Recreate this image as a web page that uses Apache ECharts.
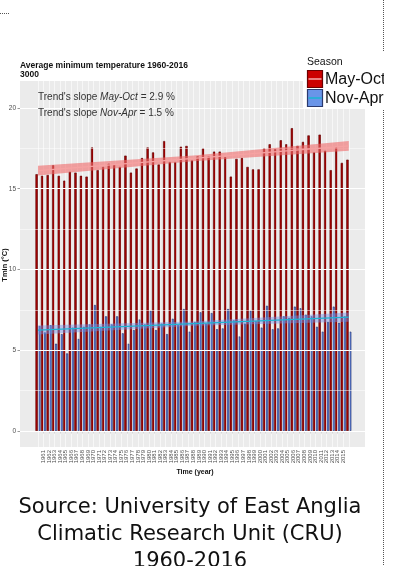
<!DOCTYPE html>
<html>
<head>
<meta charset="utf-8">
<script src="https://cdn.jsdelivr.net/npm/echarts@6/dist/echarts.min.js"></script>
<style>
  html, body { margin: 0; padding: 0; background: #fff; }
  #chart { width: 405px; height: 566px; }
</style>
</head>
<body>
<div id="chart"></div>
<script>
// years on the x axis
const years = [1960,1961,1962,1963,1964,1965,1966,1967,1968,1969,
  1970,1971,1972,1973,1974,1975,1976,1977,1978,1979,
  1980,1981,1982,1983,1984,1985,1986,1987,1988,1989,
  1990,1991,1992,1993,1994,1995,1996,1997,1998,1999,
  2000,2001,2002,2003,2004,2005,2006,2007,2008,2009,
  2010,2011,2012,2013,2014,2015,2016];

// Tmin (°C) per season
const mayOct = [15.9,15.8,15.85,16.45,15.8,15.5,16.05,16.0,15.8,15.75,
  17.55,16.15,16.35,16.55,16.5,16.35,17.05,16.0,16.25,16.9,
  17.55,17.25,16.5,17.95,16.65,16.65,17.6,17.65,16.75,17.0,
  17.5,17.0,17.3,17.3,16.95,15.75,16.85,16.9,16.35,16.2,
  16.2,17.5,17.75,17.45,18.0,17.75,18.75,17.65,17.9,18.3,
  17.25,18.35,17.35,16.15,17.55,16.6,16.8];
const novApr = [6.5,6.1,6.55,5.4,6.0,4.8,6.4,5.7,6.45,6.6,
  7.8,6.45,7.1,6.6,7.1,6.05,5.4,6.25,6.9,6.6,
  7.45,6.25,6.65,6.0,6.95,6.55,7.55,6.15,6.75,7.35,
  6.65,7.3,6.3,6.35,7.55,6.85,5.85,6.65,7.45,6.8,
  6.4,7.75,6.3,6.35,7.1,7.0,7.7,7.6,7.2,7.1,
  6.45,6.15,6.75,7.7,6.7,7.1,6.15];

// linear trends (lm smooth) with their confidence band half widths
const trendYears = [1960, 1988, 2016];
const mayOctTrend = [16.12, 16.88, 17.65];
const mayOctBand = [0.3, 0.18, 0.3];
const novAprTrend = [6.25, 6.65, 7.05];
const novAprBand = [0.28, 0.13, 0.28];

const yMajor = [0, 5, 10, 15, 20];
const yMinor = [2.5, 7.5, 12.5, 17.5];

const FONT = 'Liberation Sans';

var myChart = echarts.init(document.getElementById('chart'));

function bandSeries(trend, band, fill) {
  return {
    type: 'custom',
    silent: true,
    z: 5,
    data: [[trendYears[0], trend[0]]],
    renderItem: function (params, api) {
      var upper = trendYears.map(function (yr, i) { return api.coord([yr, trend[i] + band[i]]); });
      var lower = trendYears.map(function (yr, i) { return api.coord([yr, trend[i] - band[i]]); }).reverse();
      return { type: 'polygon', shape: { points: upper.concat(lower) }, style: { fill: fill } };
    }
  };
}

function trendSeries(trend, color) {
  return {
    type: 'line',
    silent: true,
    z: 6,
    symbol: 'none',
    data: trendYears.map(function (yr, i) { return [yr, trend[i]]; }),
    lineStyle: { color: color, width: 1.2 }
  };
}

var gridLines = [];
yMajor.forEach(function (v) { gridLines.push({ yAxis: v, lineStyle: { width: 1.1 } }); });
yMinor.forEach(function (v) { gridLines.push({ yAxis: v, lineStyle: { width: 0.5 } }); });
years.forEach(function (yr) { gridLines.push({ xAxis: yr, lineStyle: { width: 0.6 } }); });

var option = {
  animation: false,
  backgroundColor: '#fff',
  textStyle: { fontFamily: FONT },
  grid: {
    left: 20, right: 40, top: 81, bottom: 119,
    show: true, backgroundColor: '#EBEBEB', borderWidth: 0
  },
  xAxis: {
    type: 'value',
    min: 1956.76, max: 2018.92,
    axisLine: { show: false },
    splitLine: { show: false },
    axisTick: { customValues: years, length: 2.5, lineStyle: { color: '#555', width: 0.6 } },
    axisLabel: {
      customValues: years, rotate: 90, fontSize: 6, color: '#4d4d4d', margin: 3,
      formatter: function (v) { return String(v); }
    }
  },
  yAxis: {
    type: 'value',
    min: -0.99, max: 21.67,
    axisLine: { show: false },
    splitLine: { show: false },
    axisTick: { show: true, customValues: yMajor, length: 2.5, lineStyle: { color: '#555', width: 0.6 } },
    axisLabel: { customValues: yMajor, fontSize: 6.5, color: '#4d4d4d', margin: 4 }
  },
  series: [
    {
      type: 'scatter',
      silent: true,
      z: 1,
      symbolSize: 0,
      data: [[1960, 0]],
      markLine: {
        silent: true,
        symbol: ['none', 'none'],
        label: { show: false },
        lineStyle: { color: '#fff', type: 'solid' },
        data: gridLines
      }
    },
    {
      name: 'May-Oct',
      type: 'bar',
      z: 2,
      barWidth: 2.4,
      barGap: '12%',
      data: years.map(function (yr, i) { return [yr, mayOct[i]]; }),
      itemStyle: { color: '#A80000', borderColor: '#5a0000', borderWidth: 0.6 }
    },
    {
      name: 'Nov-Apr',
      type: 'bar',
      z: 2,
      barWidth: 2.4,
      barGap: '12%',
      data: years.map(function (yr, i) { return [yr, novApr[i]]; }),
      itemStyle: { color: '#5778CC', borderColor: '#27346e', borderWidth: 0.6 }
    },
    bandSeries(mayOctTrend, mayOctBand, 'rgba(240,105,105,0.6)'),
    trendSeries(mayOctTrend, '#F6A2A2'),
    bandSeries(novAprTrend, novAprBand, 'rgba(115,145,235,0.45)'),
    trendSeries(novAprTrend, '#1FB3D3')
  ],
  graphic: [
    // dotted frame bits of the page
    { type: 'line', z: 1, shape: { x1: 383.5, y1: 0, x2: 383.5, y2: 566 },
      style: { stroke: '#555', lineWidth: 1, lineDash: [1, 1] } },
    { type: 'line', z: 1, shape: { x1: 0, y1: 13.5, x2: 9, y2: 13.5 },
      style: { stroke: '#555', lineWidth: 1, lineDash: [1, 1] } },

    // titles
    { type: 'text', x: 20, y: 66, style: { text: 'Average minimum temperature 1960-2016', fontSize: 8.5, fontWeight: 'bold', fontFamily: FONT, fill: '#111', verticalAlign: 'middle' } },
    { type: 'text', x: 20, y: 75, style: { text: '3000', fontSize: 8.5, fontWeight: 'bold', fontFamily: FONT, fill: '#111', verticalAlign: 'middle' } },

    // slope annotations
    { type: 'text', x: 38, y: 97.5, z: 10, style: {
      text: "Trend's slope {i|May-Oct} = 2.9 %", fontSize: 10, fontFamily: FONT, fill: '#333', verticalAlign: 'middle',
      rich: { i: { fontStyle: 'italic', fontSize: 10, fontFamily: FONT, fill: '#333' } } } },
    { type: 'text', x: 38, y: 113, z: 10, style: {
      text: "Trend's slope {i|Nov-Apr} = 1.5 %", fontSize: 10, fontFamily: FONT, fill: '#333', verticalAlign: 'middle',
      rich: { i: { fontStyle: 'italic', fontSize: 10, fontFamily: FONT, fill: '#333' } } } },

    // axis titles
    { type: 'text', x: 195, y: 472, style: { text: 'Time (year)', fontSize: 7, fontWeight: 'bold', fontFamily: FONT, fill: '#111', align: 'center', verticalAlign: 'middle' } },
    { type: 'text', x: 5, y: 265, rotation: Math.PI / 2, style: { text: 'Tmin (°C)', fontSize: 7.5, fontWeight: 'bold', fontFamily: FONT, fill: '#111', align: 'center', verticalAlign: 'middle' } },

    // legend
    { type: 'rect', z: 20, shape: { x: 303, y: 52, width: 82, height: 57 }, style: { fill: '#fff' } },
    { type: 'text', z: 21, x: 307, y: 62.5, style: { text: 'Season', fontSize: 10.5, fontFamily: FONT, fill: '#111', verticalAlign: 'middle' } },
    { type: 'rect', z: 21, shape: { x: 307.5, y: 70.5, width: 15, height: 17 }, style: { fill: '#CC0000', stroke: '#6b0000', lineWidth: 1.2 } },
    { type: 'line', z: 22, shape: { x1: 308.5, y1: 79, x2: 321.5, y2: 79 }, style: { stroke: '#F3A0A0', lineWidth: 1.6 } },
    { type: 'rect', z: 21, shape: { x: 307.5, y: 89.5, width: 15, height: 17 }, style: { fill: '#6A95E8', stroke: '#2b3a6e', lineWidth: 1.2 } },
    { type: 'line', z: 22, shape: { x1: 308.5, y1: 98, x2: 321.5, y2: 98 }, style: { stroke: '#1FB3D3', lineWidth: 1.6 } },
    { type: 'text', z: 21, x: 325, y: 80, style: { text: 'May-Oct', fontSize: 16, fontFamily: FONT, fill: '#111', verticalAlign: 'middle' } },
    { type: 'text', z: 21, x: 325, y: 98.5, style: { text: 'Nov-Apr', fontSize: 16, fontFamily: FONT, fill: '#111', verticalAlign: 'middle' } },
    { type: 'rect', z: 23, shape: { x: 384, y: 52, width: 21, height: 57 }, style: { fill: '#fff' } },

    // source caption
    { type: 'text', x: 190, y: 507.5, style: { text: 'Source: University of East Anglia', fontSize: 21, fontFamily: 'DejaVu Sans', fill: '#111', align: 'center', verticalAlign: 'middle' } },
    { type: 'text', x: 190, y: 534.5, style: { text: 'Climatic Research Unit (CRU)', fontSize: 21, fontFamily: 'DejaVu Sans', fill: '#111', align: 'center', verticalAlign: 'middle' } },
    { type: 'text', x: 190, y: 561.5, style: { text: '1960-2016', fontSize: 21, fontFamily: 'DejaVu Sans', fill: '#111', align: 'center', verticalAlign: 'middle' } }
  ]
};

myChart.setOption(option);
</script>
</body>
</html>
